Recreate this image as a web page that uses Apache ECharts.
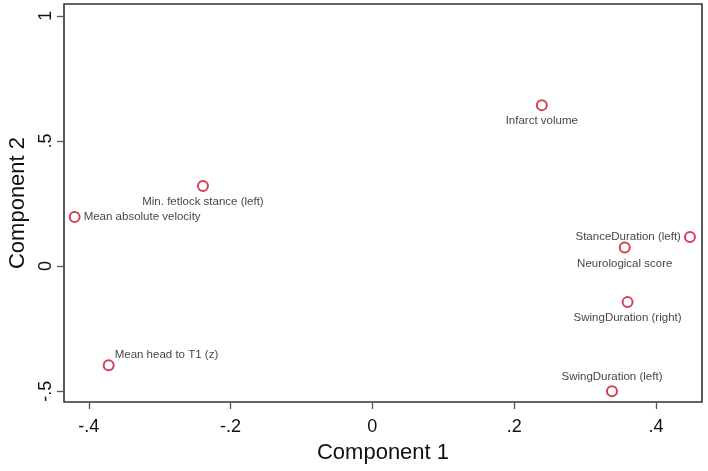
<!DOCTYPE html>
<html>
<head>
<meta charset="utf-8">
<script src="https://cdn.jsdelivr.net/npm/echarts@6/dist/echarts.min.js"></script>
<style>html,body{margin:0;padding:0;background:#fff;}#c{width:708px;height:471px;}</style>
</head>
<body>
<div id="c"></div>
<script>
const names = ["Infarct volume","Min. fetlock stance (left)","Mean absolute velocity","StanceDuration (left)","Neurological score","SwingDuration (right)","SwingDuration (left)","Mean head to T1 (z)"];
const comp1 = [0.239,-0.239,-0.42,0.448,0.356,0.36,0.338,-0.372];
const comp2 = [0.643,0.32,0.196,0.116,0.074,-0.144,-0.5,-0.396];
const xTicks = [-0.4,-0.2,0,0.2,0.4];
const yTicks = [-0.5,0,0.5,1];

const labelStyle = {
  "Infarct volume": {position:'bottom', distance:4},
  "Min. fetlock stance (left)": {position:'bottom', distance:4},
  "Mean absolute velocity": {position:'right', distance:3},
  "StanceDuration (left)": {position:'left', distance:3},
  "Neurological score": {position:'bottom', distance:4},
  "SwingDuration (right)": {position:'bottom', distance:4},
  "SwingDuration (left)": {position:'top', distance:2},
  "Mean head to T1 (z)": {position:'right', distance:0, offset:[0,-10]}
};

function fmt(v){
  if (Math.abs(v) < 1e-9) return '0';
  let s = String(Math.round(v*10)/10);
  return s.replace(/^(-?)0\./,'$1.');
}

const data = names.map((n,i)=>({
  value:[comp1[i],comp2[i]],
  name:n,
  label: Object.assign({show:true, formatter:n}, labelStyle[n])
}));

const font = '"Liberation Sans", Arial, Helvetica, sans-serif';
const chart = echarts.init(document.getElementById('c'), null, {renderer:'canvas'});
chart.setOption({
  animation:false,
  backgroundColor:'#fff',
  grid:{left:64,right:6,top:4,bottom:69,containLabel:false,outerBoundsMode:'none',show:true,borderColor:'#333',borderWidth:1.6,backgroundColor:'transparent'},
  xAxis:{
    type:'value', min:-0.435, max:0.465,
    name:'Component 1', nameLocation:'middle', nameGap:40,
    nameTextStyle:{fontSize:22,color:'#111',fontFamily:font},
    axisLine:{show:false,onZero:false},
    splitLine:{show:false},
    axisTick:{show:true,length:7,lineStyle:{color:'#555',width:1.3},customValues:xTicks},
    axisLabel:{fontSize:18,color:'#111',fontFamily:font,margin:16,customValues:xTicks,formatter:fmt}
  },
  yAxis:{
    type:'value', min:-0.543, max:1.047,
    name:'Component 2', nameLocation:'middle', nameGap:33, nameRotate:90,
    nameTextStyle:{fontSize:22,color:'#111',fontFamily:font},
    axisLine:{show:false,onZero:false},
    splitLine:{show:false},
    axisTick:{show:true,length:7,lineStyle:{color:'#555',width:1.3},customValues:yTicks},
    axisLabel:{fontSize:18,color:'#111',fontFamily:font,margin:9,rotate:90,customValues:yTicks,formatter:fmt}
  },
  series:[{
    type:'scatter',
    symbol:'emptyCircle',
    symbolSize:10,
    itemStyle:{color:'#c8102e',borderColor:'#c8102e',borderWidth:1.9},
    label:{show:true,fontSize:11.5,color:'#111',fontFamily:font},
    emphasis:{disabled:true},
    data:data
  }]
});
</script>
</body>
</html>
